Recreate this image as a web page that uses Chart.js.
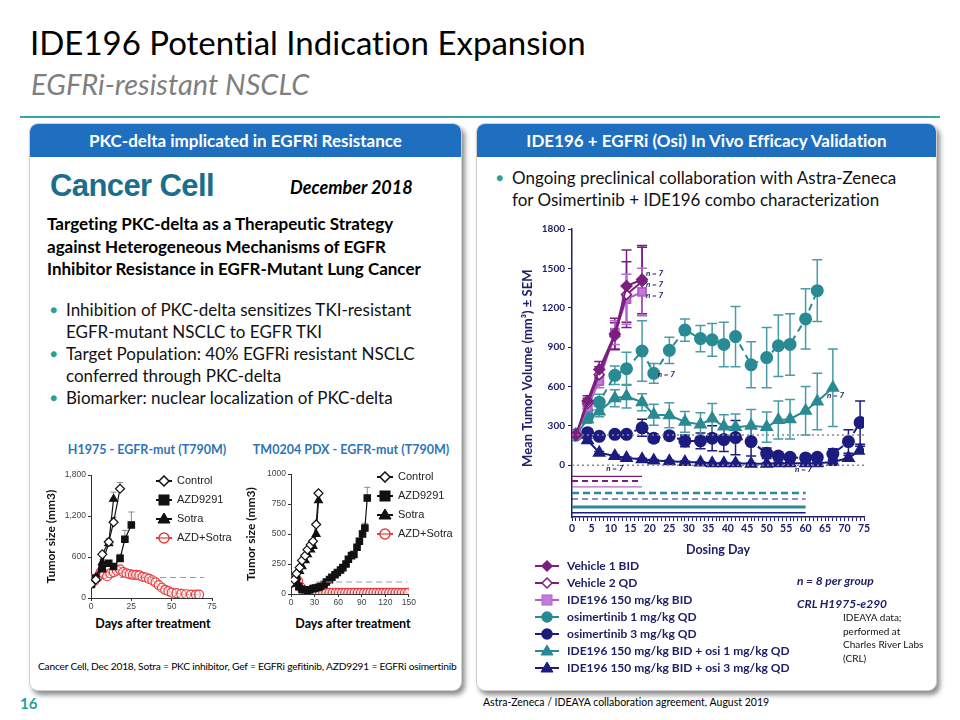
<!DOCTYPE html>
<html>
<head>
<meta charset="utf-8">
<script src="https://cdn.jsdelivr.net/npm/chart.js@4.4.0/dist/chart.umd.min.js"></script>
<style>
  body { margin: 0; width: 960px; height: 720px; background: #fff; position: relative; overflow: hidden;
         font-family: Lato, "Open Sans", sans-serif; color: #000; font-variant-ligatures: none; }
  .abs { position: absolute; white-space: nowrap; }
  .panel { position: absolute; background: #fff; border: 1px solid #d0d0d0; border-radius: 9px;
           box-shadow: 3px 4px 5px rgba(0,0,0,0.45); }
  .phead { position: absolute; left: 0; top: 0; right: 0; height: 33px; background: #1F6FC1; color: #fff;
           border-radius: 8px 8px 0 0; font-weight: bold; font-size: 17px; text-align: center; line-height: 33px; }
  .bul { position: absolute; font-size: 17px; line-height: 22px; color: #111; }
  .bul .dot { position: absolute; left: -16px; color: #2AA198; font-size: 12px; }
  .lg { position: absolute; font-size: 12px; font-weight: bold; color: #1F2068; }
  .lg div { height: 17px; line-height: 17px; display: flex; align-items: center; }
  .lg svg { margin-right: 8px; }
  .slg { position: absolute; font-family: "Liberation Sans", Arial, sans-serif; font-size: 11px; color: #222; }
  .slg div { height: 19px; line-height: 19px; display: flex; align-items: center; }
  .slg svg { margin-right: 5px; }
</style>
</head>
<body>
<div class="abs" style="left:30px;top:22px;font-size:33px;">IDE196 Potential Indication Expansion</div>
<div class="abs" style="left:31px;top:66px;font-size:29px;font-style:italic;color:#7f7f7f;">EGFRi-resistant NSCLC</div>
<div class="abs" style="left:20px;top:116px;width:920px;height:2px;background:#3AA3A5;"></div>

<div class="panel" style="left:29px;top:123px;width:431px;height:566px;">
  <div class="phead">PKC-delta implicated in EGFRi Resistance</div>
</div>
<div class="panel" style="left:476px;top:123px;width:459px;height:566px;">
  <div class="phead">IDE196 + EGFRi (Osi) In Vivo Efficacy Validation</div>
</div>

<div class="abs" style="left:50px;top:168px;font-family:'Liberation Sans',Arial,sans-serif;font-weight:bold;font-size:31px;color:#1B6E8C;letter-spacing:-0.6px;">Cancer Cell</div>
<div class="abs" style="left:290px;top:176px;font-size:18px;font-weight:bold;font-style:italic;">December 2018</div>
<div class="abs" style="left:47px;top:213px;font-size:17px;font-weight:bold;line-height:22.5px;">
Targeting PKC-delta as a Therapeutic Strategy<br>against Heterogeneous Mechanisms of EGFR<br>Inhibitor Resistance in EGFR-Mutant Lung Cancer</div>
<div class="bul" style="left:66px;top:299px;"><span class="dot">●</span>Inhibition of PKC-delta sensitizes TKI-resistant<br>EGFR-mutant NSCLC to EGFR TKI</div>
<div class="bul" style="left:66px;top:343px;"><span class="dot">●</span>Target Population: 40% EGFRi resistant NSCLC<br>conferred through PKC-delta</div>
<div class="bul" style="left:66px;top:387px;"><span class="dot">●</span>Biomarker: nuclear localization of PKC-delta</div>

<div class="abs" style="left:147px;top:442px;transform:translateX(-50%);font-size:12.5px;font-weight:bold;color:#2E75B6;">H1975 - EGFR-mut (T790M)</div>
<div class="abs" style="left:351px;top:442px;transform:translateX(-50%);font-size:12.5px;font-weight:bold;color:#2E75B6;">TM0204 PDX - EGFR-mut (T790M)</div>
<div class="abs" style="left:44px;top:468px;width:176px;height:146px;"><canvas id="c1"></canvas></div>
<div class="abs" style="left:244px;top:467px;width:173px;height:143px;"><canvas id="c2"></canvas></div>
<div class="slg" id="lg1" style="left:156px;top:471px;"></div>
<div class="slg" id="lg2" style="left:377px;top:467px;"></div>
<div class="abs" style="left:153px;top:616px;transform:translateX(-50%);font-size:12.5px;font-weight:bold;">Days after treatment</div>
<div class="abs" style="left:353px;top:616px;transform:translateX(-50%);font-size:12.5px;font-weight:bold;">Days after treatment</div>
<div class="abs" style="left:38px;top:660px;font-size:10.2px;letter-spacing:-0.2px;">Cancer Cell, Dec 2018, Sotra = PKC inhibitor, Gef = EGFRi gefitinib, AZD9291 = EGFRi osimertinib</div>

<div class="bul" style="left:512px;top:167px;"><span class="dot">●</span>Ongoing preclinical collaboration with Astra-Zeneca<br>for Osimertinib + IDE196 combo characterization</div>
<div class="abs" style="left:520px;top:220px;width:356px;height:341px;"><canvas id="main"></canvas></div>
<div class="lg" id="lgMain" style="left:535px;top:557px;"></div>
<div class="abs" style="left:797px;top:573px;font-size:12px;font-weight:bold;font-style:italic;color:#1F2068;">n = 8 per group</div>
<div class="abs" style="left:797px;top:596px;font-size:12px;font-weight:bold;font-style:italic;color:#1F2068;">CRL H1975-e290</div>
<div class="abs" style="left:843px;top:611px;font-size:10px;line-height:13.5px;color:#111;">IDEAYA data;<br>performed at<br>Charles River Labs<br>(CRL)</div>

<div class="abs" style="left:20px;top:694px;font-size:15px;font-weight:bold;color:#1FA39A;">16</div>
<div class="abs" style="left:483px;top:696px;font-size:10.5px;letter-spacing:0px;">Astra-Zeneca / IDEAYA collaboration agreement, August 2019</div>

<script>
// ---- main chart data (CRL H1975-e290) ----
const mainDays = [1, 4, 7, 11, 14, 18, 21, 25, 29, 33, 36, 39, 42, 46, 50, 53, 56, 60, 63, 67, 71, 74];
const xTickLabels = [0, 5, 10, 15, 20, 25, 30, 35, 40, 45, 50, 55, 60, 65, 70, 75];
const yTickLabels = [0, 300, 600, 900, 1200, 1500, 1800];

const seriesNames = ['Vehicle 1 BID', 'Vehicle 2 QD', 'IDE196 150 mg/kg BID', 'osimertinib 1 mg/kg QD',
  'osimertinib 3 mg/kg QD', 'IDE196 150 mg/kg BID + osi 1 mg/kg QD', 'IDE196 150 mg/kg BID + osi 3 mg/kg QD'];
const vehicle1 = [230, 490, 730, 1000, 1365, 1415];
const vehicle1Err = [0, 40, 60, 120, 275, 260];
const vehicle2 = [230, 470, 690, 985, 1300, 1400];
const vehicle2Err = [0, 40, 60, 100, 250, 260];
const ide196 = [230, 440, 640, 1010, 1265, 1320];
const ide196Err = [0, 40, 50, 90, 190, 180];
const osi1 = [230, 370, 480, 685, 735, 870, 700, 875, 1030, 965, 955, 920, 980, 765, 820, 910, 920, 1115, 1330];
const osi1Err = [0, 40, 60, 70, 125, 230, 75, 100, 85, 100, 125, 170, 230, 175, 230, 235, 235, 230, 235];
const osi3 = [230, 248, 220, 235, 235, 285, 205, 225, 185, 185, 205, 195, 210, 180, 90, 70, 60, 55, 60, 85, 180, 325];
const osi3Err = [0, 25, 20, 15, 15, 65, 30, 25, 45, 60, 95, 90, 130, 110, 40, 30, 25, 20, 20, 40, 90, 165];
const combo1 = [230, 350, 410, 510, 525, 480, 385, 380, 330, 310, 355, 295, 290, 300, 290, 345, 350, 415, 485, 590];
const combo1Err = [0, 30, 40, 65, 90, 65, 80, 95, 80, 90, 115, 90, 100, 125, 115, 145, 150, 185, 215, 295];
const combo3 = [230, 190, 95, 70, 55, 45, 35, 30, 25, 20, 15, 15, 15, 10, 10, 15, 15, 15, 15, 25, 55, 115];
const combo3Err = [0, 15, 10, 8, 8, 8, 8, 8, 6, 6, 6, 6, 6, 6, 6, 8, 8, 8, 8, 12, 20, 30];
// dosing period bars below the axis: level (mm3 scale) and last dosing day
const dosingLevels = [-85, -120, -165, -212, -258, -318, -363];
const dosingEnds = [18, 18, 18, 60, 60, 60, 60];
const baselineVolume = 230;
// "n = 7" notes: day, volume, text
const nNotes = [[19, 1460, 'n = 7', 'left'], [19, 1378, 'n = 7', 'left'], [19, 1295, 'n = 7', 'left'],
  [22, 688, 'n = 7', 'left'], [11, -25, 'n = 7', 'center'], [65.5, 533, 'n = 7', 'left'], [59.5, -33, 'n = 7', 'center']];

// ---- H1975 (Cancer Cell) ----
const h1975XTicks = [0, 25, 50, 75];
const h1975YTicks = [0, 600, 1200, 1800];
const h1975CtrlDays = [0, 3, 7, 11, 14, 18];
const h1975Ctrl = [200, 270, 640, 820, 1110, 1600];
const h1975CtrlErr = [0, 0, 40, 50, 70, 90];
const h1975AzdDays = [0, 3, 7, 11, 14, 18, 21, 25];
const h1975Azd = [200, 290, 430, 510, 460, 580, 860, 1070];
const h1975AzdErr = [0, 0, 0, 0, 0, 60, 130, 190];
const h1975SotraDays = [0, 3, 7, 11, 14];
const h1975Sotra = [200, 300, 520, 800, 1450];
const h1975SotraErr = [0, 0, 40, 60, 100];
const h1975ComboDays = [0, 2, 4, 6, 8, 10, 12, 14, 16, 18, 20, 22, 24, 26, 28, 30, 32, 34, 36, 38, 40, 42, 44, 46, 48, 50, 53, 56, 59, 62, 65, 67];
const h1975Combo = [280, 250, 300, 380, 350, 320, 360, 380, 400, 420, 380, 360, 350, 340, 340, 330, 310, 300, 280, 260, 230, 190, 150, 120, 100, 80, 70, 60, 55, 50, 50, 50];
const h1975Ref = [[18, 300], [70, 300]];

// ---- TM0204 PDX ----
const tmXTicks = [0, 30, 60, 90, 120, 150];
const tmYTicks = [0, 250, 500, 750, 1000];
const tmCtrlDays = [0, 4, 7, 11, 14, 18, 21, 25, 28, 32, 35];
const tmCtrl = [90, 120, 170, 220, 280, 320, 370, 410, 440, 580, 840];
const tmSotraDays = [0, 4, 7, 11, 14, 18, 21, 25, 28, 32, 35];
const tmSotra = [90, 110, 140, 190, 230, 280, 330, 370, 400, 500, 780];
const tmAzdDays = [0, 3, 7, 10, 14, 17, 21, 24, 28, 31, 35, 38, 42, 45, 49, 52, 56, 59, 63, 66, 70, 73, 77, 80, 84, 87, 91, 94, 97];
const tmAzd = [90, 110, 120, 60, 40, 35, 30, 35, 45, 50, 55, 65, 80, 100, 120, 140, 160, 180, 200, 220, 250, 290, 320, 330, 390, 440, 500, 550, 800];
const tmAzdErr = [0, 0, 0, 0, 0, 0, 0, 0, 0, 0, 0, 0, 0, 0, 0, 0, 0, 0, 0, 0, 0, 0, 0, 0, 0, 20, 30, 40, 90];
const tmComboDays = [0, 3, 6, 9, 12, 15, 18, 21, 25, 29, 33, 37, 41, 45, 49, 53, 57, 61, 65, 69, 73, 77, 81, 85, 89, 93, 97, 101, 105, 109, 113, 117, 121, 125, 129, 133, 137, 141, 145, 149];
const tmCombo = [90, 110, 130, 110, 60, 30, 15, 10, 10, 10, 10, 10, 10, 10, 10, 10, 10, 10, 10, 10, 10, 10, 10, 10, 10, 10, 10, 10, 10, 10, 10, 10, 10, 10, 10, 10, 10, 10, 10, 10];
const tmRef = [[32, 100], [148, 100]];

const smallNames = ['Control', 'AZD9291', 'Sotra', 'AZD+Sotra'];

// ---- colours ----
const PURPLE = '#7A1E80', LILAC = '#B767CC', TEAL = '#2A8A94', NAVY = '#1C1C80', AXIS = '#1F2068';
const RED = '#E0403F';

Chart.defaults.animation = false;
Chart.defaults.font.family = 'Lato, sans-serif';

const xy = (days, vals) => vals.map((v, i) => ({ x: days[i], y: v }));

// error bars (uses each dataset's err array)
const errorBars = {
  id: 'errorBars',
  beforeDatasetsDraw(chart) {
    const { ctx, scales: { x, y } } = chart;
    chart.data.datasets.forEach(ds => {
      if (!ds.err) return;
      ctx.save();
      ctx.strokeStyle = ds.errColor || ds.borderColor;
      ctx.lineWidth = ds.errWidth || 1.5;
      ctx.setLineDash([]);
      const cap = ds.capW || 4;
      ds.data.forEach((p, i) => {
        const e = ds.err[i];
        if (!e) return;
        const px = x.getPixelForValue(p.x);
        const top = y.getPixelForValue(p.y + e), bot = y.getPixelForValue(p.y - e);
        ctx.beginPath();
        ctx.moveTo(px, top); ctx.lineTo(px, ds.upOnly ? y.getPixelForValue(p.y) : bot);
        ctx.moveTo(px - cap, top); ctx.lineTo(px + cap, top);
        if (!ds.upOnly) { ctx.moveTo(px - cap, bot); ctx.lineTo(px + cap, bot); }
        ctx.stroke();
      });
      ctx.restore();
    });
  }
};

const notes = {
  id: 'notes',
  afterDatasetsDraw(chart) {
    const { ctx, scales: { x, y } } = chart;
    ctx.save();
    ctx.fillStyle = AXIS;
    ctx.font = 'italic bold 8px Lato, sans-serif';
    ctx.textBaseline = 'middle';
    nNotes.forEach(([d, v, t, al]) => {
      ctx.textAlign = al;
      ctx.fillText(t, x.getPixelForValue(d), y.getPixelForValue(v));
    });
    ctx.restore();
  }
};

// ---- main chart ----
const dosingStyles = [
  { c: PURPLE, w: 1.2, dash: [] }, { c: PURPLE, w: 2, dash: [6, 4] }, { c: LILAC, w: 1.2, dash: [] },
  { c: TEAL, w: 2.5, dash: [7, 4] }, { c: NAVY, w: 1.2, dash: [6, 4] }, { c: TEAL, w: 3, dash: [] }, { c: NAVY, w: 1.5, dash: [] }
];
const dosingSets = dosingLevels.map((lv, i) => ({
  data: [{ x: 0, y: lv }, { x: dosingEnds[i], y: lv }],
  borderColor: dosingStyles[i].c, borderWidth: dosingStyles[i].w, borderDash: dosingStyles[i].dash, pointRadius: 0
}));
const refSets = [baselineVolume, 0].map(v => ({
  data: [{ x: 0, y: v }, { x: 75, y: v }], borderColor: '#8a8a8a', borderWidth: 1.5, borderDash: [2, 3], pointRadius: 0
}));

const mainSeries = [
  { data: xy(mainDays, vehicle1), err: vehicle1Err, borderColor: PURPLE, backgroundColor: PURPLE, pointStyle: 'rectRot', pointRadius: 5, borderWidth: 2 },
  { data: xy(mainDays, vehicle2), err: vehicle2Err, borderColor: PURPLE, backgroundColor: '#fff', pointStyle: 'rectRot', pointRadius: 5, borderWidth: 2, pointBorderWidth: 1.5 },
  { data: xy(mainDays, ide196), err: ide196Err, errColor: '#B76ACB', borderColor: '#B060C6', backgroundColor: '#C27BD8', pointStyle: 'rect', pointRadius: 5.5, borderWidth: 2 },
  { data: xy(mainDays, osi1), err: osi1Err, errColor: '#4A9BA3', borderColor: TEAL, backgroundColor: TEAL, pointStyle: 'circle', pointRadius: 5.5, borderWidth: 2, borderDash: [7, 5] },
  { data: xy(mainDays, osi3), err: osi3Err, borderColor: NAVY, backgroundColor: NAVY, pointStyle: 'circle', pointRadius: 5.5, borderWidth: 2, borderDash: [7, 5] },
  { data: xy(mainDays, combo1), err: combo1Err, errColor: '#4A9BA3', borderColor: TEAL, backgroundColor: TEAL, pointStyle: 'triangle', pointRadius: 6, borderWidth: 2 },
  { data: xy(mainDays, combo3), err: combo3Err, borderColor: NAVY, backgroundColor: NAVY, pointStyle: 'triangle', pointRadius: 6, borderWidth: 2 }
];
mainSeries.forEach((s, i) => { s.label = seriesNames[i]; s.capW = 5; s.pointBorderColor = s.borderColor; });

new Chart(document.getElementById('main'), {
  type: 'line',
  data: { datasets: [...dosingSets, ...refSets, ...mainSeries] },
  options: {
    responsive: true, maintainAspectRatio: false,
    layout: { padding: { top: 7, right: 12, left: 0, bottom: 0 } },
    plugins: { legend: { display: false }, tooltip: { enabled: false } },
    scales: {
      x: {
        type: 'linear', min: 0, max: 75,
        afterBuildTicks: s => { s.ticks = Array.from({ length: 76 }, (_, i) => ({ value: i })); },
        afterFit: s => { s.height = 44; },
        border: { color: AXIS, width: 1.5 },
        grid: { drawOnChartArea: false, tickLength: 4, color: AXIS, lineWidth: 1 },
        ticks: { autoSkip: false, maxRotation: 0, color: AXIS, padding: 1, font: { weight: 'bold', size: 10.5 },
                 callback: v => xTickLabels.includes(v) ? String(v) : '' },
        title: { display: true, text: 'Dosing Day', color: AXIS, font: { weight: 'bold', size: 12.5 }, padding: { top: 0 } }
      },
      y: {
        min: -395, max: 1800,
        afterBuildTicks: s => { s.ticks = yTickLabels.map(v => ({ value: v })); },
        afterFit: s => { s.width = 52; },
        border: { color: AXIS, width: 1.5 },
        grid: { drawOnChartArea: false, tickLength: 4, color: AXIS },
        ticks: { color: AXIS, padding: 3, font: { weight: 'bold', size: 10 }, callback: v => String(v) },
        title: { display: true, text: '   Mean Tumor Volume (mm³) ± SEM', color: AXIS, font: { weight: 'bold', size: 13 }, padding: 0 }
      }
    }
  },
  plugins: [errorBars, notes]
});

// ---- legend icons ----
function icon(shape, color, fill, w, h) {
  const cx = w / 2, cy = h / 2;
  let m = '';
  if (shape === 'rectRot') m = `<polygon points="${cx},${cy - 5} ${cx + 5},${cy} ${cx},${cy + 5} ${cx - 5},${cy}" fill="${fill}" stroke="${color}" stroke-width="1.5"/>`;
  if (shape === 'rect') m = `<rect x="${cx - 5}" y="${cy - 5}" width="10" height="10" fill="${fill}" stroke="${color}"/>`;
  if (shape === 'circle') m = `<circle cx="${cx}" cy="${cy}" r="5" fill="${fill}" stroke="${color}" stroke-width="1.5"/>`;
  if (shape === 'triangle') m = `<polygon points="${cx},${cy - 6} ${cx + 6},${cy + 4} ${cx - 6},${cy + 4}" fill="${fill}" stroke="${color}"/>`;
  return `<svg width="${w}" height="${h}"><line x1="0" y1="${cy}" x2="${w}" y2="${cy}" stroke="${color}" stroke-width="2"/>${m}</svg>`;
}
document.getElementById('lgMain').innerHTML = mainSeries.map(s =>
  `<div>${icon(s.pointStyle, s.borderColor, s.backgroundColor, 24, 14)}${s.label}</div>`).join('');

// ---- small charts ----
function smallChart(id, xMax, xTicks, yMax, yTicks, sets, yFmt) {
  new Chart(document.getElementById(id), {
    type: 'line',
    data: { datasets: sets },
    options: {
      responsive: true, maintainAspectRatio: false,
      layout: { padding: { top: 7, right: 8, left: 0, bottom: 0 } },
      plugins: { legend: { display: false }, tooltip: { enabled: false } },
      scales: {
        x: {
          type: 'linear', min: 0, max: xMax,
          afterBuildTicks: s => { s.ticks = xTicks.map(v => ({ value: v })); },
          afterFit: s => { s.height = 16; },
          border: { color: '#333' }, grid: { drawOnChartArea: false, tickLength: 3, color: '#333' },
          ticks: { color: '#444', padding: 1, font: { family: 'Liberation Sans, Arial', size: 8.5 } }
        },
        y: {
          min: 0, max: yMax,
          afterBuildTicks: s => { s.ticks = yTicks.map(v => ({ value: v })); },
          afterFit: s => { s.width = 47; },
          border: { color: '#333' }, grid: { drawOnChartArea: false, tickLength: 3, color: '#333' },
          ticks: { color: '#444', padding: 2, font: { family: 'Liberation Sans, Arial', size: 8.5 }, callback: yFmt },
          title: { display: true, text: 'Tumor size (mm3)', color: '#111', font: { weight: 'bold', size: 12 }, padding: 0 }
        }
      }
    },
    plugins: [errorBars]
  });
}
const smallStyle = [
  { borderColor: '#111', backgroundColor: '#fff', pointStyle: 'rectRot', pointRadius: 4.5 },
  { borderColor: '#111', backgroundColor: '#111', pointStyle: 'rect', pointRadius: 4.5 },
  { borderColor: '#111', backgroundColor: '#111', pointStyle: 'triangle', pointRadius: 4.5 },
  { borderColor: RED, backgroundColor: 'rgba(255,255,255,0.4)', pointStyle: 'circle', pointRadius: 4.5 }
];
function makeSets(list, ref) {
  const sets = list.map((d, i) => Object.assign({ data: d[0], err: d[1], errColor: '#888', errWidth: 1, capW: 3, upOnly: true,
    borderWidth: 1.2, pointBorderWidth: 1.2, label: smallNames[i] }, smallStyle[i]));
  sets.unshift({ data: ref.map(p => ({ x: p[0], y: p[1] })), borderColor: '#9a9a9a', borderWidth: 1, borderDash: [6, 4], pointRadius: 0 });
  return sets;
}
smallChart('c1', 75, h1975XTicks, 1800, h1975YTicks, makeSets([
  [xy(h1975CtrlDays, h1975Ctrl), h1975CtrlErr],
  [xy(h1975AzdDays, h1975Azd), h1975AzdErr],
  [xy(h1975SotraDays, h1975Sotra), h1975SotraErr],
  [xy(h1975ComboDays, h1975Combo), null]
], h1975Ref), v => v.toLocaleString('en-US'));
smallChart('c2', 150, tmXTicks, 1000, tmYTicks, makeSets([
  [xy(tmCtrlDays, tmCtrl), null],
  [xy(tmAzdDays, tmAzd), tmAzdErr],
  [xy(tmSotraDays, tmSotra), null],
  [xy(tmComboDays, tmCombo), null]
], tmRef), v => String(v));

function smallLegend(id) {
  document.getElementById(id).innerHTML = smallStyle.map((s, i) =>
    `<div>${icon(s.pointStyle, s.borderColor, s.backgroundColor, 16, 12)}${smallNames[i]}</div>`).join('');
}
smallLegend('lg1');
smallLegend('lg2');
</script>
</body>
</html>
